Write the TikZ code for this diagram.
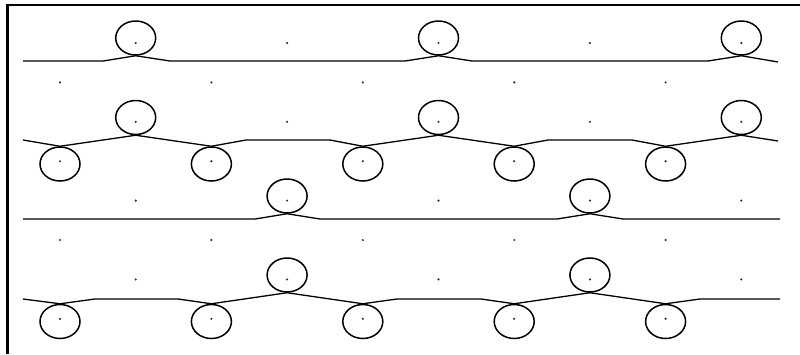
\documentclass[tikz,border=0pt]{standalone}
\usetikzlibrary{shapes.geometric}
\begin{document}
\begin{tikzpicture}[x=1pt,y=-1pt,
  ring/.style={ellipse, draw, line width=1.5pt, minimum width=40pt,
               minimum height=34pt, inner sep=0pt},
  dotmark/.style={circle, fill=black!80, inner sep=0pt, minimum size=2.4pt},
  wire/.style={line width=1.3pt, line join=round}]
\useasboundingbox (0,0) rectangle (800,354);
\fill[white] (0,0) rectangle (800,354);
% frame
\draw[line width=3pt] (7.5,354) -- (7.5,4.3);
\draw[line width=2pt] (6,5.3) -- (800,5.3);

% lattice points (checkerboard)
\foreach \j in {0,...,7}{
  \foreach \k in {0,...,4}{
    \pgfmathtruncatemacro{\i}{2*\k+1-mod(\j,2)}
    \node[dotmark] (p\i-\j) at ({60+75.7*\i},{43+39.4*\j}) {};
  }
}

% rings
\foreach \i in {1,5,9}{
  \node[ring] (a\i) at ({60+75.7*\i},38) {};
  \node[ring] (b\i) at ({60+75.7*\i},117.5) {};
}
\foreach \i in {0,2,4,6,8}{
  \node[ring] (c\i) at ({60+75.7*\i},164) {};
  \node[ring] (f\i) at ({60+75.7*\i},321.5) {};
}
\foreach \i in {3,7}{
  \node[ring] (d\i) at ({60+75.7*\i},196) {};
  \node[ring] (e\i) at ({60+75.7*\i},275) {};
}

% wires
\draw[wire] (23,61) -- (103,61) -- (a1.south) -- (170,61) -- (405,61)
  -- (a5.south) -- (472,61) -- (708,61) -- (a9.south) -- (778,62);
\draw[wire] (23,140) -- (c0.north) -- (b1.south) -- (c2.north) -- (246,140)
  -- (330,140) -- (c4.north) -- (b5.south) -- (c6.north) -- (548,140)
  -- (632,140) -- (c8.north) -- (b9.south) -- (778,141);
\draw[wire] (23,219) -- (255,219) -- (d3.south) -- (320,219) -- (557,219)
  -- (d7.south) -- (623,219) -- (780,219);
\draw[wire] (23,299) -- (f0.north) -- (95,299) -- (178,299) -- (f2.north)
  -- (e3.south) -- (f4.north) -- (397,299) -- (481,299) -- (f6.north)
  -- (e7.south) -- (f8.north) -- (700,299) -- (780,299);
\end{tikzpicture}
\end{document}
